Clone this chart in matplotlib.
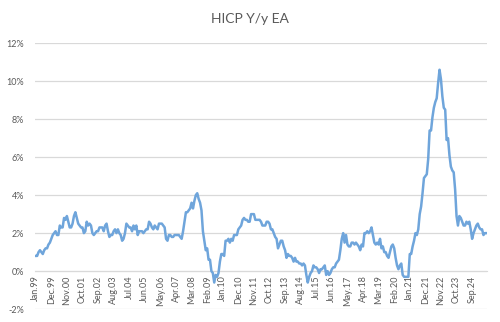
import matplotlib.pyplot as plt
import pandas as pd
from matplotlib.ticker import FuncFormatter

# HICP euro area, y/y in %, monthly from Jan 1999
hicp_1999_2004 = [
    0.8, 0.8, 1.0, 1.1, 1.0, 0.9, 1.1, 1.2, 1.2, 1.4, 1.5, 1.7,
    1.9, 2.0, 2.1, 1.9, 1.9, 2.4, 2.3, 2.3, 2.8, 2.7, 2.9, 2.6,
    2.3, 2.3, 2.5, 2.9, 3.1, 2.8, 2.5, 2.4, 2.3, 2.3, 2.0, 2.1,
    2.6, 2.4, 2.5, 2.4, 2.0, 1.9, 2.0, 2.1, 2.1, 2.3, 2.3, 2.3,
    2.1, 2.4, 2.5, 2.1, 1.8, 1.9, 1.9, 2.1, 2.2, 2.0, 2.2, 2.0,
    1.9, 1.6, 1.7, 2.0, 2.5, 2.4, 2.3, 2.3, 2.1, 2.4, 2.2, 2.4,
]
hicp_2005_2010 = [
    1.9, 2.1, 2.1, 2.1, 2.0, 2.1, 2.2, 2.2, 2.6, 2.5, 2.3, 2.2,
    2.4, 2.3, 2.2, 2.5, 2.5, 2.5, 2.4, 2.3, 1.7, 1.6, 1.9, 1.9,
    1.8, 1.8, 1.9, 1.9, 1.9, 1.9, 1.8, 1.7, 2.1, 2.6, 3.1, 3.1,
    3.2, 3.3, 3.6, 3.3, 3.7, 4.0, 4.1, 3.8, 3.6, 3.2, 2.1, 1.6,
    1.1, 1.2, 0.6, 0.6, 0.0, -0.1, -0.6, -0.2, -0.3, -0.1, 0.5, 0.9,
    0.9, 0.8, 1.6, 1.6, 1.7, 1.5, 1.7, 1.6, 1.9, 1.9, 1.9, 2.2,
]
hicp_2011_2016 = [
    2.3, 2.4, 2.7, 2.8, 2.7, 2.7, 2.6, 2.6, 3.0, 3.0, 3.0, 2.7,
    2.7, 2.7, 2.7, 2.6, 2.4, 2.4, 2.4, 2.6, 2.6, 2.5, 2.2, 2.2,
    2.0, 1.8, 1.7, 1.2, 1.4, 1.6, 1.6, 1.3, 1.1, 0.7, 0.9, 0.8,
    0.8, 0.7, 0.5, 0.7, 0.5, 0.5, 0.4, 0.4, 0.3, 0.4, 0.3, -0.2,
    -0.6, -0.3, -0.1, 0.0, 0.3, 0.2, 0.2, 0.1, -0.1, 0.1, 0.1, 0.2,
    0.3, -0.2, 0.0, -0.2, -0.1, 0.1, 0.2, 0.2, 0.4, 0.5, 0.6, 1.1,
]
hicp_2017_2022 = [
    1.7, 2.0, 1.5, 1.9, 1.4, 1.3, 1.3, 1.5, 1.5, 1.4, 1.5, 1.4,
    1.3, 1.1, 1.4, 1.3, 2.0, 2.0, 2.1, 2.0, 2.1, 2.3, 1.9, 1.5,
    1.4, 1.5, 1.4, 1.7, 1.2, 1.3, 1.0, 1.0, 0.8, 0.7, 1.0, 1.3,
    1.4, 1.2, 0.7, 0.3, 0.1, 0.3, 0.4, -0.2, -0.3, -0.3, -0.3, -0.3,
    0.9, 0.9, 1.3, 1.6, 2.0, 1.9, 2.2, 3.0, 3.4, 4.1, 4.9, 5.0,
    5.1, 5.9, 7.4, 7.4, 8.1, 8.6, 8.9, 9.1, 9.9, 10.6, 10.1, 9.2,
]
hicp_2023_2025 = [
    8.6, 8.5, 6.9, 7.0, 6.1, 5.5, 5.3, 5.2, 4.3, 2.9, 2.4, 2.9,
    2.8, 2.6, 2.4, 2.4, 2.6, 2.5, 2.6, 2.2, 1.7, 2.0, 2.2, 2.4,
    2.5, 2.3, 2.2, 2.2, 1.9, 2.0, 2.0,
]

hicp = hicp_1999_2004 + hicp_2005_2010 + hicp_2011_2016 + hicp_2017_2022 + hicp_2023_2025
dates = pd.date_range("1999-01-01", periods=len(hicp), freq="MS")
labels = [d.strftime("%b.%y") for d in dates]

plt.rcParams['font.family'] = ['Lato', 'DejaVu Sans']
grey = '#595959'

fig = plt.figure(figsize=(5, 3.22), dpi=100)
ax = fig.add_axes([0.07, 0.04, 0.904, 0.826])

# axis line at 0 (set before the tick labels, it resets them)
for s in ['top', 'right', 'left']:
    ax.spines[s].set_visible(False)
ax.spines['bottom'].set_position(('data', 0))
ax.spines['bottom'].set_color('#d9d9d9')

x = list(range(len(hicp)))
ax.plot(x, hicp, color='#6fa5db', linewidth=1.8, solid_joinstyle='round', zorder=3)

ax.set_ylim(-2, 12)
ax.set_yticks(range(-2, 13, 2))
ax.yaxis.set_major_formatter(FuncFormatter(lambda v, p: f"{v:.0f}%"))
ax.set_xlim(-0.5, len(hicp) - 0.5)

step = 11
ax.set_xticks(x[::step])
ax.set_xticklabels(labels[::step])

ax.grid(axis='y', color='#d9d9d9', linewidth=0.9)
ax.set_axisbelow(True)
ax.tick_params(axis='both', length=0)
ax.tick_params(axis='y', labelsize=6.5, labelcolor=grey, pad=8)
ax.tick_params(axis='x', labelsize=6.5, labelcolor=grey, labelrotation=90, pad=3)

fig.text(0.5, 0.94, "HICP Y/y EA", ha='center', va='center', fontsize=10, color=grey)

fig.savefig("out.png", dpi=100)
